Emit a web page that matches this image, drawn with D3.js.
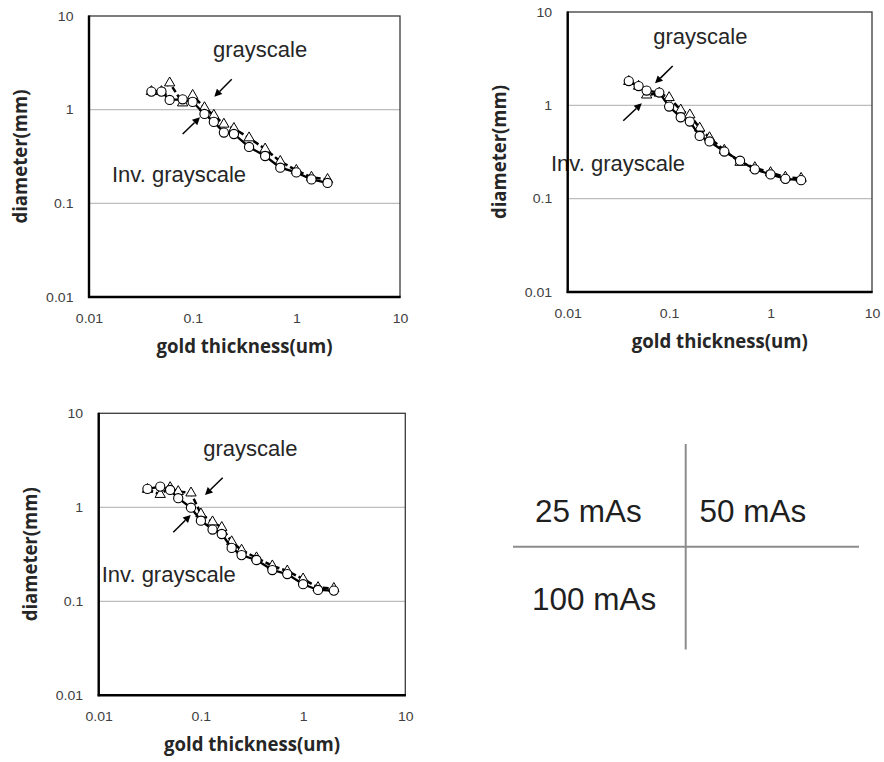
<!DOCTYPE html>
<html><head><meta charset="utf-8">
<script src="https://cdn.jsdelivr.net/npm/d3@7"></script>
<style>body{margin:0;background:#fff}</style>
</head><body><svg id="c" width="884" height="762"></svg>
<script>
// ---------------- data ----------------
const tickValues = [0.01, 0.1, 1, 10];
const tickLabels = ["0.01", "0.1", "1", "10"];
const gridValues = [0.1, 1];
const xTitle = "gold thickness(um)";
const yTitle = "diameter(mm)";
const grayLabel = "grayscale";
const invLabel = "Inv. grayscale";
const panelNames = ["25 mAs", "50 mAs", "100 mAs"];

const thick25 = [0.04,0.05,0.06,0.08,0.1,0.13,0.16,0.2,0.25,0.35,0.5,0.7,1,1.4,2];
const gray25  = [1.56,1.56,1.93,1.18,1.42,1.05,0.87,0.70,0.63,0.50,0.38,0.28,0.225,0.19,0.18];
const inv25   = [1.56,1.56,1.27,1.29,1.21,0.90,0.74,0.57,0.55,0.40,0.32,0.24,0.214,0.18,0.165];

const thick50 = [0.04,0.05,0.06,0.08,0.1,0.13,0.16,0.2,0.25,0.35,0.5,0.7,1,1.4,2];
const gray50  = [1.80,1.60,1.29,1.35,1.21,0.89,0.79,0.57,0.45,0.33,0.245,0.215,0.19,0.17,0.165];
const inv50   = [1.82,1.61,1.44,1.37,0.97,0.745,0.67,0.47,0.41,0.32,0.255,0.206,0.182,0.163,0.158];

const thick100 = [0.03,0.04,0.05,0.06,0.08,0.1,0.13,0.16,0.2,0.25,0.35,0.5,0.7,1,1.4,2];
const gray100  = [1.55,1.37,1.62,1.47,1.42,0.85,0.70,0.61,0.43,0.35,0.29,0.238,0.21,0.173,0.14,0.137];
const inv100   = [1.57,1.66,1.53,1.25,0.99,0.72,0.58,0.52,0.37,0.31,0.275,0.215,0.195,0.152,0.132,0.13];

// arrow annotations in data units: [x0,y0,x1,y1]
const arrows25  = [[0.238,2.11,0.1617,1.375],[0.0801,0.55,0.1177,0.829]];
const arrows50  = [[0.1084,2.64,0.0726,1.72],[0.0353,0.684,0.0537,1.05]];
const arrows100 = [[0.1634,2.065,0.1097,1.352],[0.0537,0.542,0.0794,0.828]];

// ---------------- layout ----------------
const panels = [
  {x:thick25, g:gray25, v:inv25, arrows:arrows25, box:[89,16,400,297], gl:[124,41], il:[23,166]},
  {x:thick50, g:gray50, v:inv50, arrows:arrows50, box:[567.7,12,872,292], gl:[85.6,31.5], il:[-16.7,158.5]},
  {x:thick100, g:gray100, v:inv100, arrows:arrows100, box:[98.7,413.3,405.3,695.3], gl:[104.6,42.7], il:[3,169]}
];

const svg = d3.select("#c");
const tickFont = "'Liberation Sans', Arial, sans-serif";
const titleFont = "'Open Sans', 'Liberation Sans', sans-serif";

function stretch(sel, k){
  sel.each(function(){
    const L = this.getComputedTextLength();
    d3.select(this).attr("textLength", L*k).attr("lengthAdjust","spacingAndGlyphs");
  });
}

panels.forEach(p => {
  const [L,T,R,B] = p.box;
  const x = d3.scaleLog().domain([0.01,10]).range([L,R]);
  const y = d3.scaleLog().domain([0.01,10]).range([B,T]);
  const g = svg.append("g");

  // gridlines
  g.selectAll("line.grid").data(gridValues).join("line")
    .attr("x1",L).attr("x2",R).attr("y1",d=>y(d)).attr("y2",d=>y(d))
    .attr("stroke","#bdbdbd").attr("stroke-width",1.2);

  // annotations text
  g.append("text").attr("x",L+p.gl[0]).attr("y",T+p.gl[1])
    .attr("font-family","'Liberation Sans', Arial, sans-serif").attr("font-size",22)
    .attr("fill","#262626").text(grayLabel);
  g.append("text").attr("x",L+p.il[0]).attr("y",T+p.il[1])
    .attr("font-family","'Liberation Sans', Arial, sans-serif").attr("font-size",22)
    .attr("fill","#262626").text(invLabel);

  // frame
  g.append("rect").attr("x",L).attr("y",T).attr("width",R-L).attr("height",B-T)
    .attr("fill","none").attr("stroke","#3a3a3a").attr("stroke-width",1.3);
  g.append("line").attr("x1",L).attr("x2",L).attr("y1",T-0.6).attr("y2",B+1)
    .attr("stroke","#000").attr("stroke-width",2.4);
  g.append("line").attr("x1",L-1).attr("x2",R+0.6).attr("y1",B).attr("y2",B)
    .attr("stroke","#000").attr("stroke-width",2.4);

  // axes
  const ax = g.append("g").attr("transform",`translate(0,${B})`)
    .call(d3.axisBottom(x).tickValues(tickValues).tickFormat((d,i)=>tickLabels[i]).tickSize(0).tickPadding(16.5));
  const ay = g.append("g").attr("transform",`translate(${L},0)`)
    .call(d3.axisLeft(y).tickValues(tickValues).tickFormat((d,i)=>tickLabels[i]).tickSize(0).tickPadding(15.5));
  [ax,ay].forEach(a=>{
    a.select(".domain").remove();
    a.selectAll("text").attr("font-family",tickFont).attr("font-size",12.8).attr("fill","#404040");
    stretch(a.selectAll("text"),1.1);
  });

  // axis titles
  const xt = g.append("text").attr("x",(L+R)/2).attr("y",B+56).attr("text-anchor","middle")
    .attr("font-family",titleFont).attr("font-weight","bold").attr("font-size",19.5)
    .attr("fill","#262626").text(xTitle);
  xt.attr("textLength",176).attr("lengthAdjust","spacingAndGlyphs");
  const yt = g.append("text").attr("transform",`translate(${L-62},${(T+B)/2}) rotate(-90)`)
    .attr("text-anchor","middle")
    .attr("font-family",titleFont).attr("font-weight","bold").attr("font-size",19.5)
    .attr("fill","#262626").text(yTitle);
  yt.attr("textLength",134).attr("lengthAdjust","spacingAndGlyphs");

  // data
  const pts = p.x.map((t,i)=>({t, g:p.g[i], v:p.v[i]}));
  const lineG = d3.line().x(d=>x(d.t)).y(d=>y(d.g));
  const lineV = d3.line().x(d=>x(d.t)).y(d=>y(d.v));
  g.append("path").attr("d",lineG(pts)).attr("fill","none").attr("stroke","#000")
    .attr("stroke-width",2.5).attr("stroke-dasharray","6,3");
  g.selectAll("path.tri").data(pts).join("path")
    .attr("transform",d=>`translate(${x(d.t)},${y(d.g)})`)
    .attr("d",d3.symbol().type(d3.symbolTriangle).size(46))
    .attr("fill","#fff").attr("stroke","#000").attr("stroke-width",1);
  g.append("path").attr("d",lineV(pts)).attr("fill","none").attr("stroke","#000")
    .attr("stroke-width",2.3);
  g.selectAll("circle.c").data(pts).join("circle")
    .attr("cx",d=>x(d.t)).attr("cy",d=>y(d.v)).attr("r",4.6)
    .attr("fill","#fff").attr("stroke","#000").attr("stroke-width",1.1);

  // arrows
  p.arrows.forEach(a=>{
    const x0=x(a[0]), y0=y(a[1]), x1=x(a[2]), y1=y(a[3]);
    const ang = Math.atan2(y1-y0,x1-x0);
    const hl=7.5, hw=3.8;
    const bx = x1 - hl*Math.cos(ang), by = y1 - hl*Math.sin(ang);
    g.append("line").attr("x1",x0).attr("y1",y0).attr("x2",bx).attr("y2",by)
      .attr("stroke","#000").attr("stroke-width",1.5);
    const px = -Math.sin(ang), py = Math.cos(ang);
    g.append("path").attr("d",`M${x1},${y1}L${bx+hw*px},${by+hw*py}L${bx-hw*px},${by-hw*py}Z`)
      .attr("fill","#000");
  });
});

// quadrant legend
const q = svg.append("g");
q.append("line").attr("x1",685.7).attr("x2",685.7).attr("y1",444).attr("y2",649.5)
  .attr("stroke","#8c8c8c").attr("stroke-width",2);
q.append("line").attr("x1",513).attr("x2",859).attr("y1",546.7).attr("y2",546.7)
  .attr("stroke","#8c8c8c").attr("stroke-width",2);
const qpos = [[535,522],[699.5,522],[532,609.5]];
panelNames.forEach((n,i)=>{
  q.append("text").attr("x",qpos[i][0]).attr("y",qpos[i][1])
    .attr("font-family","'Liberation Sans', Arial, sans-serif").attr("font-size",31.5)
    .attr("fill","#1f1f1f")
    .text(n);
});
</script></body></html>
